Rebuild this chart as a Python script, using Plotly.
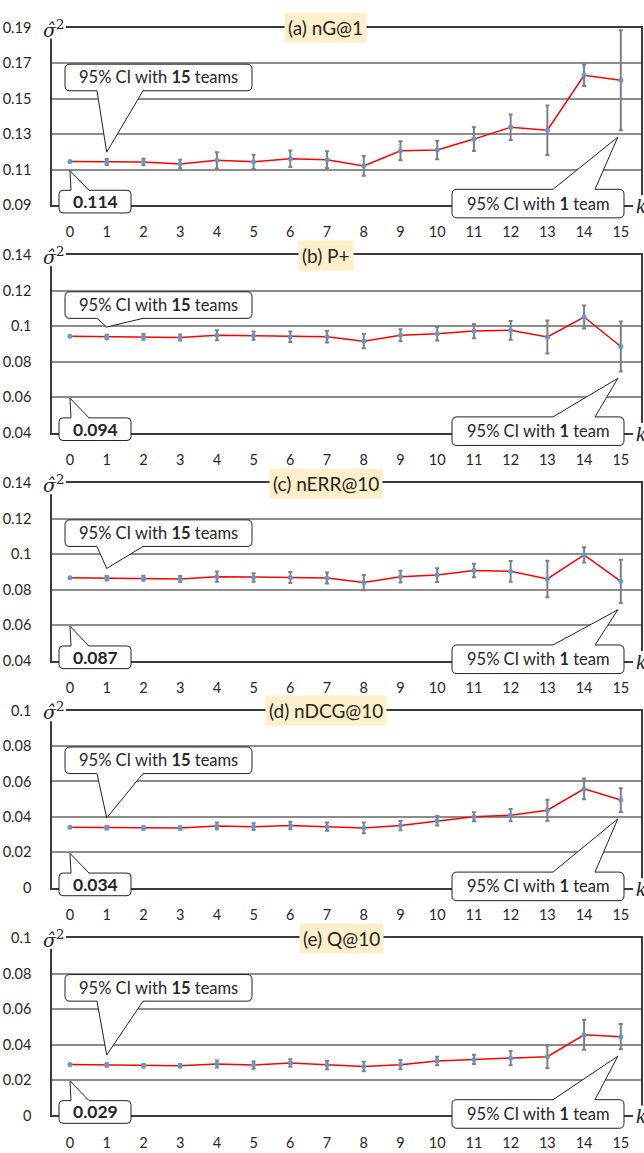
import plotly.graph_objects as go

# ---------------- data ----------------
k_values = list(range(16))
tick_labels_x = [str(k) for k in k_values]

titles = ["(a) nG@1", "(b) P+", "(c) nERR@10", "(d) nDCG@10", "(e) Q@10"]
value_labels = ["0.114", "0.094", "0.087", "0.034", "0.029"]
y_min = [0.09, 0.04, 0.04, 0.0, 0.0]
y_max = [0.19, 0.14, 0.14, 0.10, 0.10]

var_ng1 = [0.1146, 0.1143, 0.1143, 0.1132, 0.1152, 0.1144, 0.1161, 0.1156,
           0.1121, 0.1206, 0.1211, 0.1272, 0.1339, 0.1322, 0.1632, 0.1604]
ci_ng1 = [None, 0.0017, 0.0018, 0.0024, 0.0046, 0.0040, 0.0046, 0.0047,
          0.0055, 0.0054, 0.0052, 0.0067, 0.0072, 0.0140, 0.0061, 0.0282]

var_pplus = [0.0944, 0.0940, 0.0940, 0.0936, 0.0949, 0.0947, 0.0941, 0.0941,
             0.0916, 0.0949, 0.0958, 0.0973, 0.0977, 0.0940, 0.1052, 0.0886]
ci_pplus = [None, 0.0012, 0.0016, 0.0017, 0.0028, 0.0023, 0.0030, 0.0032,
            0.0040, 0.0034, 0.0038, 0.0040, 0.0053, 0.0093, 0.0065, 0.0141]

var_nerr = [0.0868, 0.0865, 0.0865, 0.0861, 0.0874, 0.0870, 0.0870, 0.0867,
            0.0841, 0.0874, 0.0883, 0.0909, 0.0904, 0.0861, 0.0997, 0.0848]
ci_nerr = [None, 0.0013, 0.0014, 0.0017, 0.0029, 0.0024, 0.0031, 0.0031,
           0.0043, 0.0033, 0.0039, 0.0038, 0.0058, 0.0103, 0.0043, 0.0122]

var_ndcg = [0.0341, 0.0339, 0.0338, 0.0338, 0.0349, 0.0345, 0.0352, 0.0345,
            0.0338, 0.0351, 0.0378, 0.0401, 0.0410, 0.0438, 0.0558, 0.0495]
ci_ndcg = [None, 0.0010, 0.0010, 0.0010, 0.0019, 0.0019, 0.0021, 0.0023,
           0.0030, 0.0026, 0.0027, 0.0025, 0.0034, 0.0059, 0.0058, 0.0067]

var_q = [0.0287, 0.0285, 0.0280, 0.0280, 0.0290, 0.0284, 0.0296, 0.0284,
         0.0276, 0.0286, 0.0307, 0.0316, 0.0323, 0.0331, 0.0455, 0.0444]
ci_q = [None, 0.0010, 0.0010, 0.0010, 0.0020, 0.0020, 0.0021, 0.0023,
        0.0027, 0.0026, 0.0024, 0.0026, 0.0040, 0.0064, 0.0084, 0.0071]

series_values = [var_ng1, var_pplus, var_nerr, var_ndcg, var_q]
series_ci = [ci_ng1, ci_pplus, ci_nerr, ci_ndcg, ci_q]

# ---------------- layout helpers ----------------
W, H = 644, 1153
X0_PX, X1_PX = 52, 641
X_RANGE = [-0.49, 15.55]
PANEL_TOPS = [19, 250, 481.5, 712, 943]
PANEL_H = 180
TITLE_CX = [325.5, 326, 325.5, 326, 342]

FONT = "Lato"
SERIF = "DejaVu Serif"
TXT = "#262626"


def fx(px):
    return px / W


def fy(py):
    return 1 - py / H


def data_x_px(k):
    return X0_PX + (k - X_RANGE[0]) / (X_RANGE[1] - X_RANGE[0]) * (X1_PX - X0_PX)


def data_y_px(v, i):
    T = PANEL_TOPS[i]
    B = T + PANEL_H
    return B - (v - y_min[i]) / (y_max[i] - y_min[i]) * PANEL_H


def callout_path(x0, y0, x1, y1, r, top_tail=None, bottom_tail=None):
    """Rounded rectangle (pixel coords, y down) with an optional wedge tail.
    tail = (base_a, base_b, tip_x, tip_y)."""
    pts = [("M", [(x0 + r, y0)])]
    if top_tail:
        a, b, tx, ty = top_tail
        pts += [("L", [(a, y0)]), ("L", [(tx, ty)]), ("L", [(b, y0)])]
    pts += [("L", [(x1 - r, y0)]), ("Q", [(x1, y0), (x1, y0 + r)]),
            ("L", [(x1, y1 - r)]), ("Q", [(x1, y1), (x1 - r, y1)])]
    if bottom_tail:
        a, b, tx, ty = bottom_tail
        pts += [("L", [(b, y1)]), ("L", [(tx, ty)]), ("L", [(a, y1)])]
    pts += [("L", [(x0 + r, y1)]), ("Q", [(x0, y1), (x0, y1 - r)]),
            ("L", [(x0, y0 + r)]), ("Q", [(x0, y0), (x0 + r, y0)])]
    s = ""
    for cmd, coords in pts:
        s += cmd + " ".join(f"{fx(x):.6f},{fy(y):.6f}" for x, y in coords)
    return s + "Z"


def white_rect(x0, y0, x1, y1):
    return dict(type="rect", xref="paper", yref="paper", layer="above",
                x0=fx(x0), x1=fx(x1), y0=fy(y1), y1=fy(y0),
                fillcolor="white", line=dict(width=0))


fig = go.Figure()
shapes = []
annotations = []

for i in range(5):
    T = PANEL_TOPS[i]
    B = T + PANEL_H
    xa = "x" if i == 0 else f"x{i+1}"
    ya = "y" if i == 0 else f"y{i+1}"
    xkey = "xaxis" if i == 0 else f"xaxis{i+1}"
    ykey = "yaxis" if i == 0 else f"yaxis{i+1}"

    fig.add_trace(go.Scatter(
        x=k_values, y=series_values[i], xaxis=xa, yaxis=ya,
        mode="lines+markers",
        line=dict(color="#FF0000", width=1.5),
        marker=dict(color="#5B9BD5", size=5),
        error_y=dict(type="data", array=series_ci[i], visible=True,
                     color="#7F7F7F", thickness=2, width=2),
        showlegend=False, hoverinfo="skip",
    ))

    fig.update_layout({
        xkey: dict(
            domain=[fx(X0_PX), fx(X1_PX)], anchor=ya, range=X_RANGE,
            tickmode="array", tickvals=k_values, ticktext=tick_labels_x,
            showgrid=False, zeroline=False,
            showline=True, mirror=True, linecolor="#3a3a3a", linewidth=1.5,
            ticks="", ticklabelstandoff=13,
            tickfont=dict(family=FONT, size=14.5, color=TXT),
        ),
        ykey: dict(
            domain=[fy(B), fy(T)], anchor=xa,
            range=[y_min[i], y_max[i]], tick0=y_min[i], dtick=0.02,
            showgrid=True, gridcolor="#8c8c8c", gridwidth=1.5,
            zeroline=False,
            showline=True, mirror=True, linecolor="#3a3a3a", linewidth=1.5,
            ticks="", ticklabelstandoff=16,
            tickfont=dict(family=FONT, size=14.5, color=TXT),
        ),
    })

    # --- callout: 95% CI with 15 teams (top-left)
    tip1_y = data_y_px(series_values[i][1], i) - 10
    shapes.append(dict(
        type="path", xref="paper", yref="paper", layer="above",
        path=callout_path(65, T + 37, 252, T + 64, 5,
                          bottom_tail=(97, 143, data_x_px(1), tip1_y)),
        fillcolor="white", line=dict(color="#222", width=1),
    ))
    annotations.append(dict(
        xref="paper", yref="paper", x=fx(158.5), y=fy(T + 50.5),
        text="95% CI with <b>15</b> teams", showarrow=False,
        font=dict(family=FONT, size=16.5, color=TXT),
        xanchor="center", yanchor="middle",
    ))

    # --- callout: value at k=0 (bottom-left)
    shapes.append(dict(
        type="path", xref="paper", yref="paper", layer="above",
        path=callout_path(59, B - 15, 131, B + 8, 4,
                          top_tail=(71, 89, data_x_px(0), B - 35)),
        fillcolor="white", line=dict(color="#222", width=1),
    ))
    annotations.append(dict(
        xref="paper", yref="paper", x=fx(95), y=fy(B - 3.5),
        text=f"<b>{value_labels[i]}</b>", showarrow=False,
        font=dict(family=FONT, size=17.5, color=TXT),
        xanchor="center", yanchor="middle",
    ))

    # --- callout: 95% CI with 1 team (bottom-right)
    tip15_y = data_y_px(series_values[i][15] - series_ci[i][15], i) + 7
    shapes.append(dict(
        type="path", xref="paper", yref="paper", layer="above",
        path=callout_path(452, B - 16, 624, B + 13, 5,
                          top_tail=(553, 595, data_x_px(15) - 3, tip15_y)),
        fillcolor="white", line=dict(color="#222", width=1),
    ))
    annotations.append(dict(
        xref="paper", yref="paper", x=fx(538), y=fy(B - 1.5),
        text="95% CI with <b>1</b> team", showarrow=False,
        font=dict(family=FONT, size=16.5, color=TXT),
        xanchor="center", yanchor="middle",
    ))

    # --- panel title
    annotations.append(dict(
        xref="paper", yref="paper", x=fx(TITLE_CX[i]), y=fy(T),
        text=titles[i], showarrow=False,
        font=dict(family=FONT, size=19, color=TXT),
        bgcolor="#FCEFC9", borderpad=3, height=23,
        xanchor="center", yanchor="middle",
    ))

    # --- sigma-hat squared label (white patch + glyphs)
    shapes.append(white_rect(41, T - 12, 66, T + 11))
    annotations.append(dict(
        xref="paper", yref="paper", x=fx(53), y=fy(T + 1),
        text="<i>σ̂</i><sup>2</sup>", showarrow=False,
        font=dict(family=SERIF, size=19, color="#222"),
        xanchor="center", yanchor="middle",
    ))

    # --- k label (white patch + glyph)
    shapes.append(white_rect(633, B - 10, 644, B + 10))
    annotations.append(dict(
        xref="paper", yref="paper", x=fx(634), y=fy(B + 1),
        text="<i>k</i>", showarrow=False,
        font=dict(family="Liberation Serif", size=21, color="#222"),
        xanchor="left", yanchor="middle",
    ))

fig.update_layout(
    width=W, height=H,
    margin=dict(l=0, r=0, t=0, b=0),
    paper_bgcolor="white", plot_bgcolor="white",
    shapes=shapes, annotations=annotations,
    showlegend=False,
)

fig.write_html(
    "out.html",
    config={"displayModeBar": False},
    post_script="document.body.style.margin='0';document.body.style.overflow='hidden';",
)
